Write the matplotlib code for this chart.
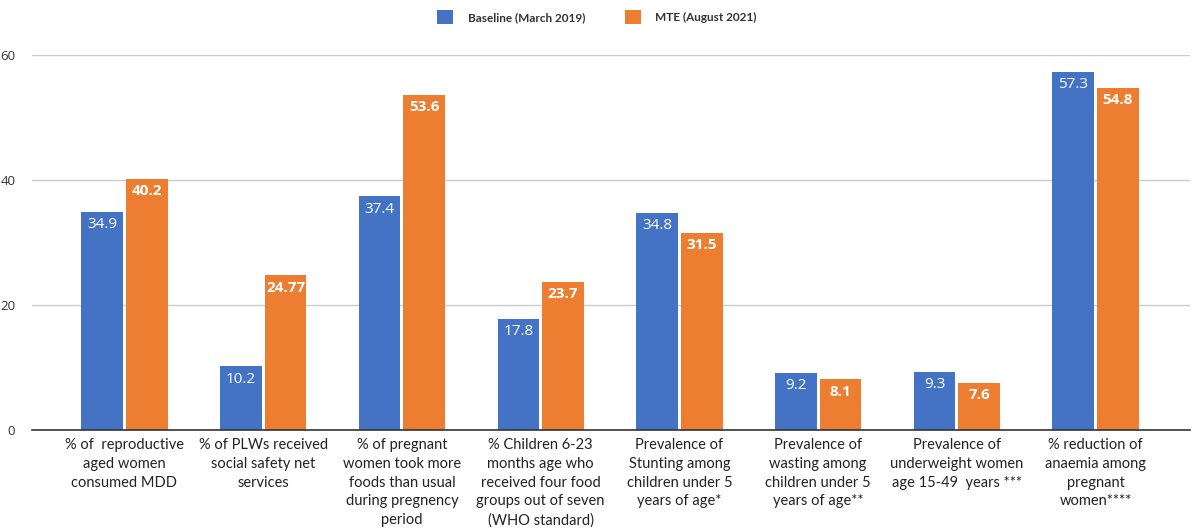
import matplotlib
matplotlib.use("Agg")
import matplotlib.pyplot as plt
import numpy as np

categories = [
    "% of  reproductive\naged women\nconsumed MDD",
    "% of PLWs received\nsocial safety net\nservices",
    "% of pregnant\nwomen took more\nfoods than usual\nduring pregnency\nperiod",
    "% Children 6-23\nmonths age who\nreceived four food\ngroups out of seven\n(WHO standard)",
    "Prevalence of\nStunting among\nchildren under 5\nyears of age*",
    "Prevalence of\nwasting among\nchildren under 5\nyears of age**",
    "Prevalence of\nunderweight women\nage 15-49  years ***",
    "% reduction of\nanaemia among\npregnant\nwomen****",
]
baseline = [34.9, 10.2, 37.4, 17.8, 34.8, 9.2, 9.3, 57.3]
mte = [40.2, 24.77, 53.6, 23.7, 31.5, 8.1, 7.6, 54.8]
baseline_labels = ["34.9", "10.2", "37.4", "17.8", "34.8", "9.2", "9.3", "57.3"]
mte_labels = ["40.2", "24.77", "53.6", "23.7", "31.5", "8.1", "7.6", "54.8"]
series_names = ["Baseline (March 2019)", "MTE (August 2021)"]
yticks = [0, 20, 40, 60]

BLUE = "#4472C4"
ORANGE = "#ED7D31"

fig = plt.figure(figsize=(11.94, 5.31), dpi=100)
ax = fig.add_axes([32/1194, 1-430/531, (1190-32)/1194, (430-55)/531])

x = np.arange(len(categories))
w = 0.30
off = 0.161
b1 = ax.bar(x - off, baseline, w, color=BLUE, label=series_names[0], zorder=3)
b2 = ax.bar(x + off, mte, w, color=ORANGE, label=series_names[1], zorder=3)

for xi, v, t in zip(x, baseline, baseline_labels):
    ax.text(xi - off, v - 0.85, t, ha="center", va="top", color="white",
            fontsize=11, family="Open Sans", zorder=4)
for xi, v, t in zip(x, mte, mte_labels):
    ax.text(xi + off, v - 0.85, t, ha="center", va="top", color="white",
            fontsize=11, family="Open Sans", fontweight="bold", zorder=4)

ax.set_ylim(0, 60)
ax.set_xlim(-0.666, 7.68)
ax.set_yticks(yticks)
ax.set_yticklabels([str(t) for t in yticks], fontsize=9.5, family="Open Sans", color="#333333")
ax.yaxis.grid(True, color="#cccccc", linewidth=1, zorder=0)
ax.tick_params(axis="y", length=0, pad=12)
ax.tick_params(axis="x", length=0, pad=6)
ax.set_xticks(x)
ax.set_xticklabels(categories, fontsize=10.5, family="Lato", color="#222222", linespacing=1.42, va="top")
for s in ["top", "right", "left"]:
    ax.spines[s].set_visible(False)
ax.spines["bottom"].set_color("#333333")
ax.spines["bottom"].set_linewidth(1.2)
ax.spines["bottom"].set_zorder(5)

leg = fig.legend(handles=[b1, b2], labels=series_names, loc="center", bbox_to_anchor=(0.5, 1-17/531),
                 ncol=2, frameon=False, prop={"family": "Lato", "size": 8.5, "weight": "bold"},
                 handlelength=1.35, handleheight=1.35, columnspacing=3.4, handletextpad=1.2)
for t in leg.get_texts():
    t.set_color("#333333")

fig.savefig("out.png", dpi=100)
